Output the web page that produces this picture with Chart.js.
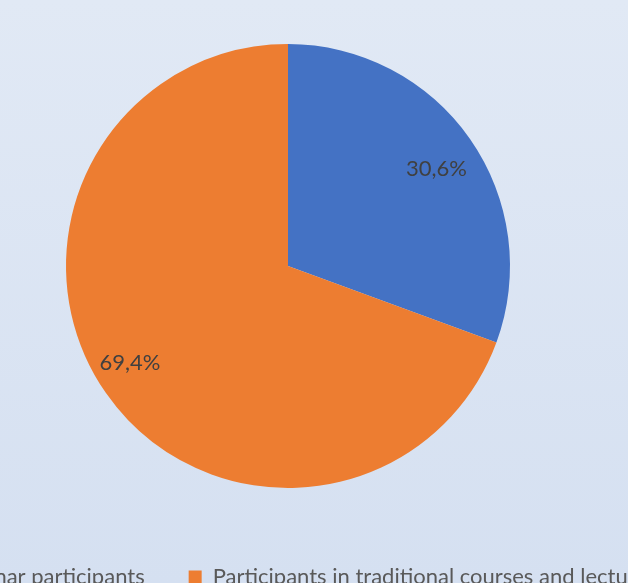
<!DOCTYPE html>
<html>
<head>
<meta charset="utf-8">
<script src="https://cdn.jsdelivr.net/npm/chart.js@4.4.0/dist/chart.umd.min.js"></script>
<style>
  html, body { margin:0; padding:0; width:628px; height:583px; overflow:hidden;
    background: linear-gradient(to bottom, #E1E9F5 0%, #D5E0F1 100%); }
  #wrap { position:absolute; left:-212px; top:0; width:1000px; height:598px; }
</style>
</head>
<body>
<div id="wrap"><canvas id="c"></canvas></div>
<script>
const categories = ['Webinar participants', 'Participants in traditional courses and lectures'];
const values = [30.6, 69.4];
const valueLabels = ['30,6%', '69,4%'];
const colors = ['#4472C4', '#ED7D31'];

// label placement: fraction of radius and small angular nudge (degrees) per slice
const labelRadiusFrac = [0.80, 0.835];
const labelAngleNudge = [1.6, 3.4];

const sliceLabels = {
  id: 'sliceLabels',
  afterDatasetsDraw(chart) {
    const ctx = chart.ctx;
    const meta = chart.getDatasetMeta(0);
    ctx.save();
    ctx.font = '22px Lato';
    ctx.fillStyle = '#404040';
    ctx.textAlign = 'center';
    ctx.textBaseline = 'middle';
    meta.data.forEach((arc, i) => {
      const p = arc.getProps(['x','y','startAngle','endAngle','outerRadius'], true);
      const mid = (p.startAngle + p.endAngle) / 2 + labelAngleNudge[i] * Math.PI / 180;
      const r = p.outerRadius * labelRadiusFrac[i];
      ctx.fillText(valueLabels[i], p.x + Math.cos(mid) * r, p.y + Math.sin(mid) * r);
    });
    ctx.restore();
  }
};

new Chart(document.getElementById('c'), {
  type: 'pie',
  data: {
    labels: categories,
    datasets: [{ data: values, backgroundColor: colors, borderWidth: 0, radius: 222 }]
  },
  options: {
    responsive: true,
    maintainAspectRatio: false,
    animation: false,
    layout: { padding: { top: 10, bottom: 0 } },
    plugins: {
      tooltip: { enabled: false },
      legend: {
        position: 'bottom',
        labels: {
          boxWidth: 13, boxHeight: 13, padding: 44,
          color: '#595959',
          font: { family: 'Lato', size: 22 }
        }
      }
    }
  },
  plugins: [sliceLabels]
});
</script>
</body>
</html>
